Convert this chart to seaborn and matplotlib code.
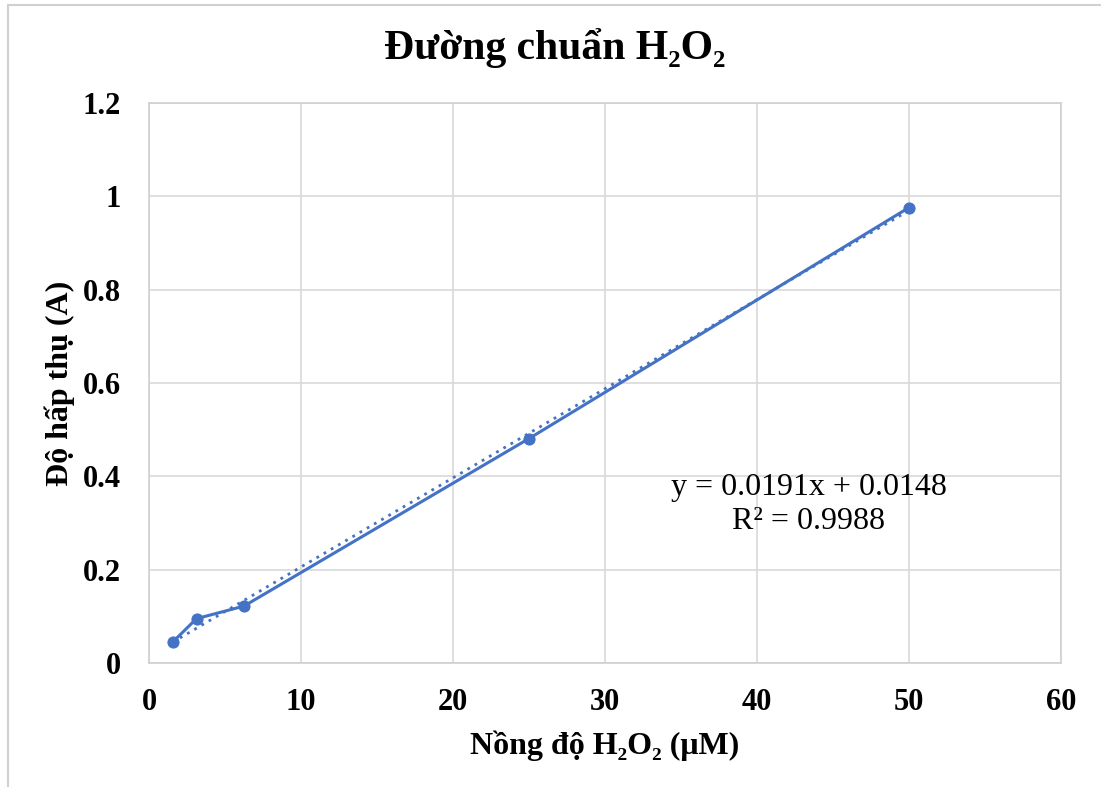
import matplotlib
matplotlib.use("Agg")
import matplotlib.pyplot as plt
import seaborn as sns
import numpy as np
import pandas as pd
from matplotlib.patches import Rectangle

# Standard curve data
concentration = [1.5625, 3.125, 6.25, 25, 50]
absorbance = [0.045, 0.095, 0.122, 0.481, 0.976]
slope = 0.0191
intercept = 0.0148
r_squared = 0.9988
x_ticks = [0, 10, 20, 30, 40, 50, 60]
y_ticks = [0, 0.2, 0.4, 0.6, 0.8, 1.0, 1.2]
y_tick_labels = ["0", "0.2", "0.4", "0.6", "0.8", "1", "1.2"]

sns.set_theme(style="whitegrid")
plt.rcParams["font.family"] = ["Liberation Serif", "DejaVu Serif"]
plt.rcParams["text.color"] = "black"
plt.rcParams["axes.labelcolor"] = "black"
plt.rcParams["xtick.color"] = "black"
plt.rcParams["ytick.color"] = "black"

blue = "#4472C4"
df = pd.DataFrame({"x": concentration, "y": absorbance})

fig = plt.figure(figsize=(11.01, 7.87), dpi=100)
ax = fig.add_axes([149 / 1101, 1 - 663 / 787, (1061 - 149) / 1101, (663 - 103) / 787])

sns.lineplot(data=df, x="x", y="y", ax=ax, color=blue, linewidth=2.2,
             marker="o", markersize=8, markeredgecolor=blue, zorder=3)

# Linear trendline
xt = np.array([min(concentration), max(concentration)])
ax.plot(xt, slope * xt + intercept, color=blue, linestyle=(0, (1, 2)),
        linewidth=2.0, zorder=2)

ax.set_xlim(0, 60)
ax.set_ylim(0, 1.2)
ax.set_xticks(x_ticks)
ax.set_yticks(y_ticks)
ax.set_xticklabels([str(t) for t in x_ticks], fontsize=22, fontweight="bold")
ax.set_yticklabels(y_tick_labels, fontsize=22, fontweight="bold")
ax.tick_params(axis="y", length=0, pad=20)
ax.tick_params(axis="x", length=0, pad=18)
ax.grid(True, color="#D9D9D9", linewidth=1.2)
for s in ax.spines.values():
    s.set_color("#D0D0D0")
    s.set_linewidth(1.2)

ax.set_xlabel("Nồng độ H₂O₂ (μM)", fontsize=23, fontweight="bold", labelpad=10)
ax.set_ylabel("Độ hấp thụ (A)", fontsize=23, fontweight="bold", labelpad=6)
fig.text(555 / 1101, 1 - 48 / 787, "Đường chuẩn H₂O₂", fontsize=30,
         fontweight="bold", ha="center", va="center")

ax.text(43.4, 0.34, f"y = {slope}x + {intercept}\nR² = {r_squared}",
        fontsize=23, ha="center", va="center", linespacing=1.25)

# Outer chart frame
fig.patches.append(Rectangle((8 / 1101, -0.05), 1.2, 1 - 5 / 787 + 0.05,
                             transform=fig.transFigure, fill=False,
                             edgecolor="#D0D0D0", linewidth=1.5))

fig.savefig("out.png", dpi=100)
